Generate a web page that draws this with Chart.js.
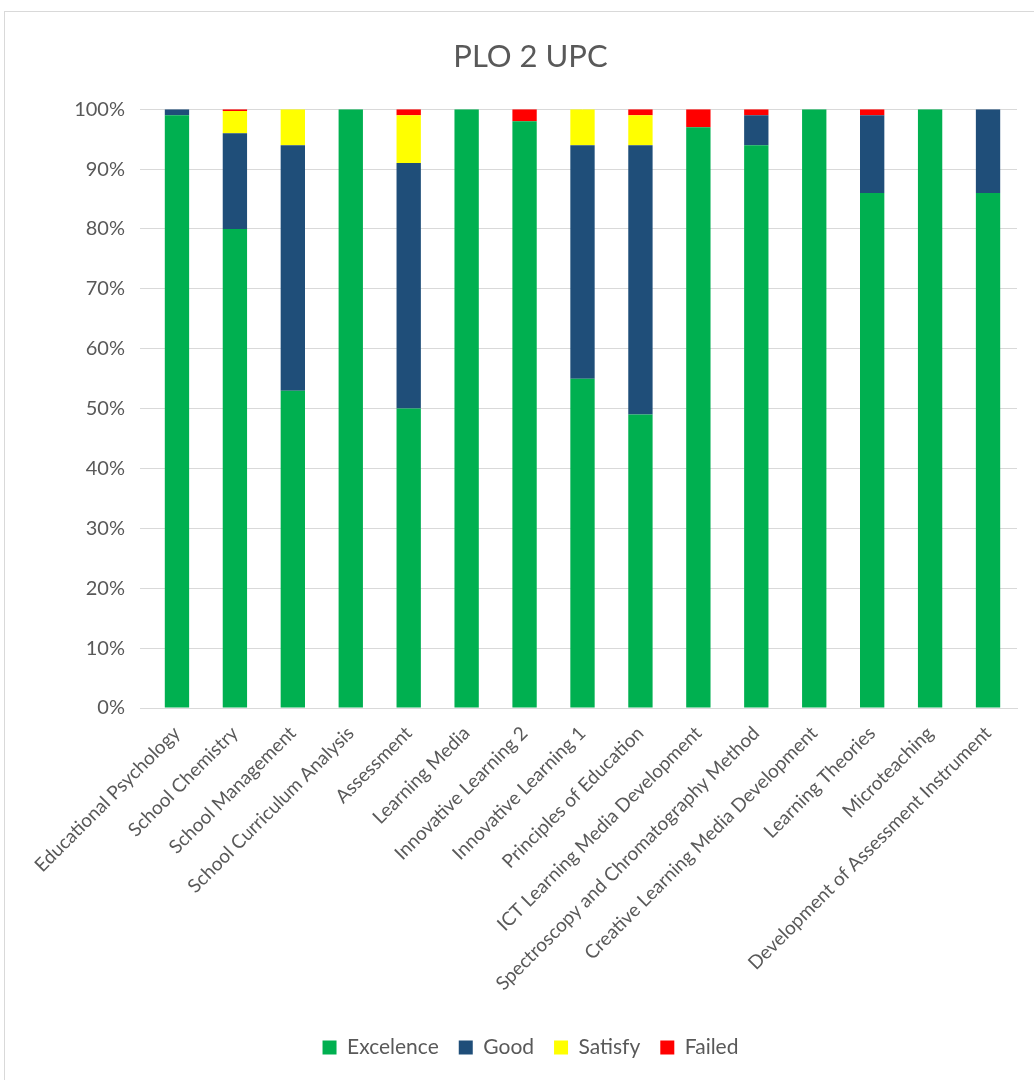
<!DOCTYPE html>
<html>
<head>
<meta charset="utf-8">
<script src="https://cdn.jsdelivr.net/npm/chart.js@4"></script>
<style>
  body { margin: 0; background: #fff; }
  #frame { position: absolute; left: 4px; top: 11px; width: 1040px; height: 1080px; border: 1px solid #d9d9d9; box-sizing: border-box; }
  #wrap { position: absolute; left: 4px; top: 11px; width: 1030px; height: 1069px; }
</style>
</head>
<body>
<div id="frame"></div>
<div id="wrap"><canvas id="grafico"></canvas></div>
<script>
const materias = [
  "Educational Psychology", "School Chemistry", "School Management",
  "School Curriculum Analysis", "Assessment", "Learning Media",
  "Innovative Learning 2", "Innovative Learning 1", "Principles of Education",
  "ICT Learning Media Development", "Spectroscopy and Chromatography Method",
  "Creative Learning Media Development", "Learning Theories", "Microteaching",
  "Development of Assessment Instrument"
];
const excelence = [99, 80, 53, 100, 50, 100, 98, 55, 49, 97, 94, 100, 86, 100, 86];
const good      = [1, 16, 41, 0, 41, 0, 0, 39, 45, 0, 5, 0, 13, 0, 14];
const satisfy   = [0, 3.7, 6, 0, 8, 0, 0, 6, 5, 0, 0, 0, 0, 0, 0];
const failed    = [0, 0.3, 0, 0, 1, 0, 2, 0, 1, 3, 1, 0, 1, 0, 0];
const ticksY = [0, 10, 20, 30, 40, 50, 60, 70, 80, 90, 100];

const gris = "#595959";
const fuente = "Lato, 'Liberation Sans', sans-serif";

const serie = (label, data, color) => ({
  label, data, backgroundColor: color,
  barPercentage: 0.42, categoryPercentage: 1
});

new Chart(document.getElementById("grafico").getContext("2d"), {
  type: "bar",
  data: {
    labels: materias,
    datasets: [
      serie("Excelence", excelence, "#00B050"),
      serie("Good", good, "#1F4E79"),
      serie("Satisfy", satisfy, "#FFFF00"),
      serie("Failed", failed, "#FF0000")
    ]
  },
  options: {
    responsive: true,
    maintainAspectRatio: false,
    animation: false,
    layout: { padding: { left: 40, right: 17, top: 0, bottom: 12 } },
    plugins: {
      title: {
        display: true, text: "PLO 2 UPC", color: gris,
        font: { family: fuente, size: 31, weight: "normal" },
        padding: { top: 27, bottom: 34 }
      },
      legend: {
        position: "bottom",
        labels: {
          color: gris, boxWidth: 14, boxHeight: 14, padding: 20,
          font: { family: fuente, size: 21 }
        }
      },
      tooltip: { enabled: false }
    },
    scales: {
      x: {
        stacked: true,
        grid: { display: false },
        border: { color: "#d9d9d9" },
        ticks: {
          color: gris, maxRotation: 45, minRotation: 45, autoSkip: false,
          padding: 6,
          font: { family: fuente, size: 19 }
        },
        afterFit: s => { s.height = 309; }
      },
      y: {
        stacked: true, min: 0, max: 100,
        afterBuildTicks: s => { s.ticks = ticksY.map(v => ({ value: v })); },
        grid: { color: "#d9d9d9" },
        border: { display: false },
        ticks: {
          color: gris, padding: 15,
          font: { family: fuente, size: 20 },
          callback: v => v + "%"
        },
        afterFit: s => { s.width = 104; }
      }
    }
  }
});
</script>
</body>
</html>
